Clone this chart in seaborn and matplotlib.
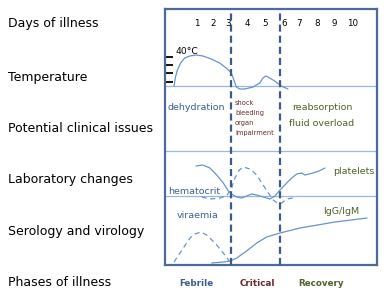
import matplotlib
matplotlib.use("Agg")
import matplotlib.pyplot as plt
import seaborn as sns
import pandas as pd

# ---------------- data (x in day-units, y in schematic chart-height units) ----
day_labels = ["1", "2", "3", "4", "5", "6", "7", "8", "9", "10"]
day_pos = [1.06, 1.98, 2.84, 3.93, 4.97, 6.06, 6.92, 7.95, 8.93, 10.02]

phase_bounds = [3.0, 5.83]

temp_x = [-0.26, -0.19, -0.07, 0.12, 0.35, 0.64, 1.02, 1.40, 1.88, 2.36, 2.74,
          3.03, 3.18, 3.32, 3.51, 3.80, 4.28, 4.66, 4.85, 5.01, 5.14, 5.52,
          5.90, 6.28]
temp_y = [179, 187, 195, 202, 207, 209, 210, 209, 206, 202, 197,
          192, 185, 178, 176, 176, 178, 182, 187, 189, 188, 184,
          179, 176]
temp_ticks = [208, 200, 192, 183]

platelets_x = [1.00, 1.39, 1.80, 2.19, 2.57, 2.86, 3.05, 3.34, 3.63, 3.91,
               4.20, 4.49, 4.87, 5.25, 5.54, 5.83, 6.21, 6.50, 6.79, 7.07,
               7.26, 7.72, 8.07, 8.41]
platelets_y = [99, 100, 97, 90, 82, 74, 71, 68, 67, 69,
               71, 70, 68, 66, 69, 75, 82, 87, 91, 92,
               90, 92, 94, 97]

hematocrit_x = [1.33, 1.80, 2.38, 2.76, 3.05, 3.24, 3.49, 3.72, 4.10, 4.49,
                4.78, 5.16, 5.44, 5.67, 5.93, 6.21, 6.59]
hematocrit_y = [68, 66, 67, 69, 77, 87, 95, 98, 96, 90,
                82, 72, 65, 62, 62, 66, 67]

viraemia_x = [-0.26, 0.27, 0.66, 0.94, 1.29, 1.61, 2.09, 2.57, 2.91]
viraemia_y = [3, 17, 27, 31, 33, 30, 22, 12, 4]

igg_x = [1.90, 2.57, 2.95, 3.34, 3.91, 4.49, 5.06, 5.83, 6.98, 8.99, 10.83]
igg_y = [2, 3, 4, 7, 14, 22, 28, 32, 37, 43, 47]

baselines = [179, 114, 69]   # temperature baseline, clinical/lab separator, hematocrit baseline

row_labels = ["Days of illness", "Temperature", "Potential clinical issues",
              "Laboratory changes", "Serology and virology", "Phases of illness"]
phases = ["Febrile", "Critical", "Recovery"]
phase_x = [1.01, 4.51, 8.18]
critical_issues = ["shock", "bleeding", "organ", "impairment"]

# ---------------- style ----------------
sns.set_theme(style="white")
plt.rcParams["font.family"] = ["DejaVu Sans"]

CURVE = "#6a93cc"
BASE = "#9ab8dc"
FRAME = "#4d6b96"
VDASH = "#3d5b88"
BLUE_TXT = "#3a5f8f"
RED_TXT = "#6b2a2a"
GREEN_TXT = "#4f6228"

fig = plt.figure(figsize=(3.88, 3.05), dpi=100)
fig.patch.set_facecolor("white")
ax = fig.add_axes([165 / 388, (305 - 265) / 305, (377 - 165) / 388, (265 - 9) / 305])
ax.set_xlim(-0.78, 11.40)
ax.set_ylim(0, 256)
ax.set_xticks([])
ax.set_yticks([])
for s in ax.spines.values():
    s.set_color(FRAME)
    s.set_linewidth(1.6)

for b in baselines:
    ax.axhline(b, color=BASE, lw=0.9, zorder=1)

for xb in phase_bounds:
    ax.axvline(xb, color=VDASH, lw=1.6, dashes=(3.2, 1.8), zorder=3)

def curve(xs, ys, dashed=False):
    df = pd.DataFrame({"x": xs, "y": ys})
    kw = dict(dashes=(4, 3)) if dashed else {}
    sns.lineplot(data=df, x="x", y="y", sort=False, estimator=None, ax=ax,
                 color=CURVE, lw=0.9, zorder=2, **kw)

curve(temp_x, temp_y)
curve(platelets_x, platelets_y)
curve(hematocrit_x, hematocrit_y, dashed=True)
curve(viraemia_x, viraemia_y, dashed=True)
curve(igg_x, igg_y)
ax.set_xlabel("")
ax.set_ylabel("")

# temperature scale ticks
for t in temp_ticks:
    ax.plot([-0.78, -0.32], [t, t], color="black", lw=1.3, zorder=2, solid_capstyle="butt")
ax.text(-0.15, 214, "40°C", fontsize=6.6, color="black", va="center", ha="left")

# day numbers
for lab, p in zip(day_labels, day_pos):
    ax.text(p, 241, lab, fontsize=6.3, ha="center", va="center", color="black")

# clinical issues
ax.text(-0.61, 157, "dehydration", fontsize=6.8, color=BLUE_TXT, ha="left", va="center")
for i, t in enumerate(critical_issues):
    ax.text(3.24, 162 - 10 * i, t, fontsize=4.8, color=RED_TXT, ha="left", va="center")
ax.text(8.24, 157, "reabsorption", fontsize=6.8, color=GREEN_TXT, ha="center", va="center")
ax.text(8.24, 141, "fluid overload", fontsize=6.8, color=GREEN_TXT, ha="center", va="center")

# lab
ax.text(-0.61, 74, "hematocrit", fontsize=6.8, color=BLUE_TXT, ha="left", va="center")
ax.text(8.87, 94, "platelets", fontsize=6.8, color=GREEN_TXT, ha="left", va="center")

# serology
ax.text(-0.09, 50, "viraemia", fontsize=6.8, color=BLUE_TXT, ha="left", va="center")
ax.text(8.30, 54, "IgG/IgM", fontsize=6.8, color=GREEN_TXT, ha="left", va="center")

# phases
for name, px, c in zip(phases, phase_x, [BLUE_TXT, RED_TXT, GREEN_TXT]):
    ax.text(px, -18, name, fontsize=6.3, fontweight="bold", color=c,
            ha="center", va="center", clip_on=False)

# left row labels
for lab, py in zip(row_labels, [24, 77, 128, 179, 231, 283]):
    fig.text(8 / 388, 1 - py / 305, lab, fontsize=9, color="black", ha="left", va="center")

fig.savefig("out.png", dpi=100, facecolor="white")
